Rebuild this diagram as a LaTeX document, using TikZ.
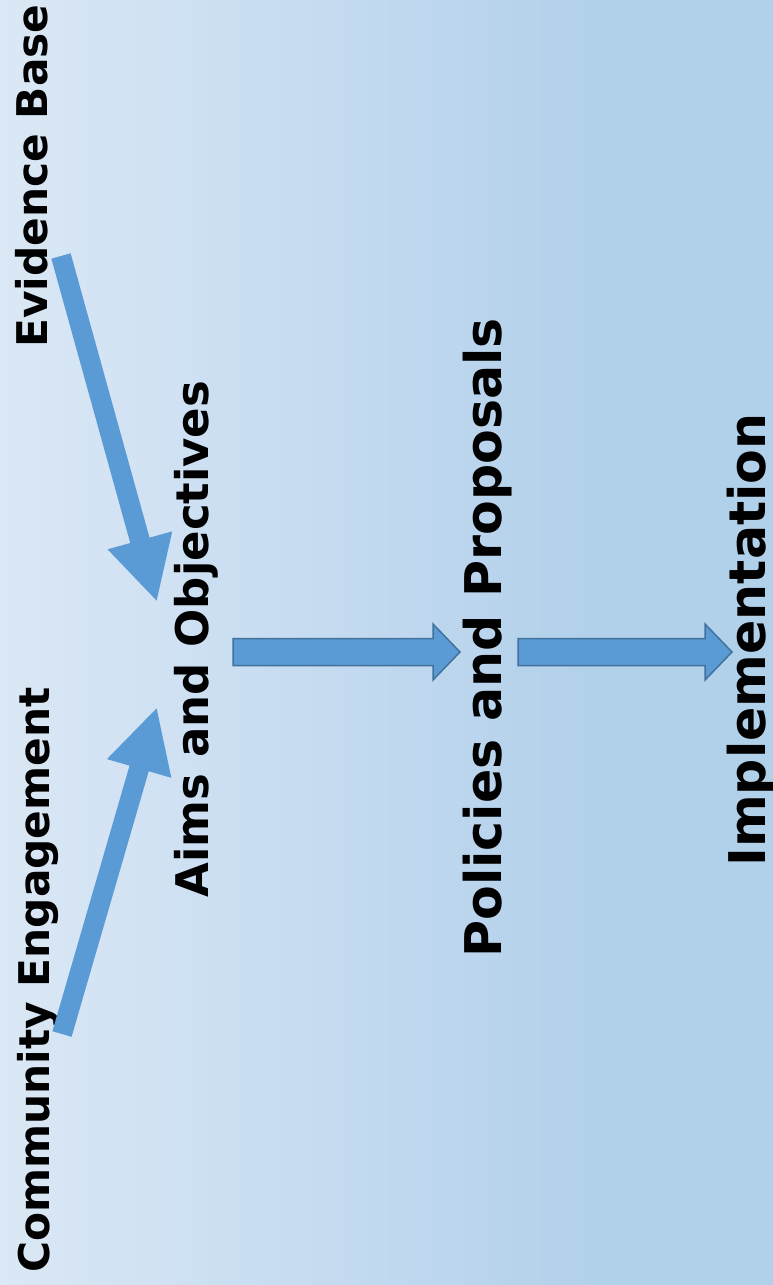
\documentclass[tikz,border=0pt]{standalone}
\usepackage{fontspec}
\setmainfont{DejaVu Sans}
\usetikzlibrary{arrows.meta,calc}

\definecolor{bgleft}{HTML}{DBE8F5}
\definecolor{bgmid}{HTML}{CADEF2}
\definecolor{bgright}{HTML}{B1D0EA}
\definecolor{arrowblue}{HTML}{5B9BD5}
\definecolor{arrowedge}{HTML}{41719C}

\pgfdeclarehorizontalshading{planbg}{100bp}{color(0bp)=(bgleft); color(25bp)=(bgleft); color(41bp)=(bgmid); color(64bp)=(bgright); color(100bp)=(bgright)}

\tikzset{
  stage/.style={rotate=90, anchor=base, inner sep=0pt, font=\bfseries\fontsize{45}{54}\selectfont},
  source/.style={stage, font=\bfseries\fontsize{42.3}{50}\selectfont},
  bigstage/.style={stage, font=\bfseries\fontsize{50.6}{60}\selectfont},
  feed/.style={draw=arrowblue, line width=20pt, -{Triangle[length=64pt,width=62pt]}},
  blockarr/.style={draw=arrowedge, fill=arrowblue, line width=1.5pt, line join=miter}
}

% block arrow from #1 to the tip #2
\newcommand{\blockarrow}[2]{%
  \draw[blockarr] ($(#1)+(0,-13.5)$) -- ($(#2)+(-27,-13.5)$) -- ($(#2)+(-27,-28)$)
    -- (#2) -- ($(#2)+(-27,28)$) -- ($(#2)+(-27,13.5)$) -- ($(#1)+(0,13.5)$) -- cycle;}

\begin{document}
\begin{tikzpicture}[x=1pt,y=-1pt]
\useasboundingbox (0,0) rectangle (773,1285);
\shade[shading=planbg] (0,0) rectangle (773,1285);

% labels
\node[source] (evid) at (47,176) {Evidence Base};
\node[source] (comm) at (49,980) {Community Engagement};
\node[stage] (aims) at (208,639) {Aims and Objectives};
\node[bigstage] (policies) at (501,638) {Policies and Proposals};
\node[bigstage] (impl) at (765,640) {Implementation};

% arrow ends
\coordinate (evtail) at (61,256);
\coordinate (evtip) at (157,602);
\coordinate (cmtail) at (62,1034);
\coordinate (cmtip) at (157,707);
\coordinate (aimsout) at (233,652);
\coordinate (polin) at (460,652);
\coordinate (polout) at (518,652);
\coordinate (implin) at (732,652);

\draw[feed] (evtail) -- (evtip);
\draw[feed] (cmtail) -- (cmtip);

\blockarrow{aimsout}{polin}
\blockarrow{polout}{implin}
\end{tikzpicture}
\end{document}
